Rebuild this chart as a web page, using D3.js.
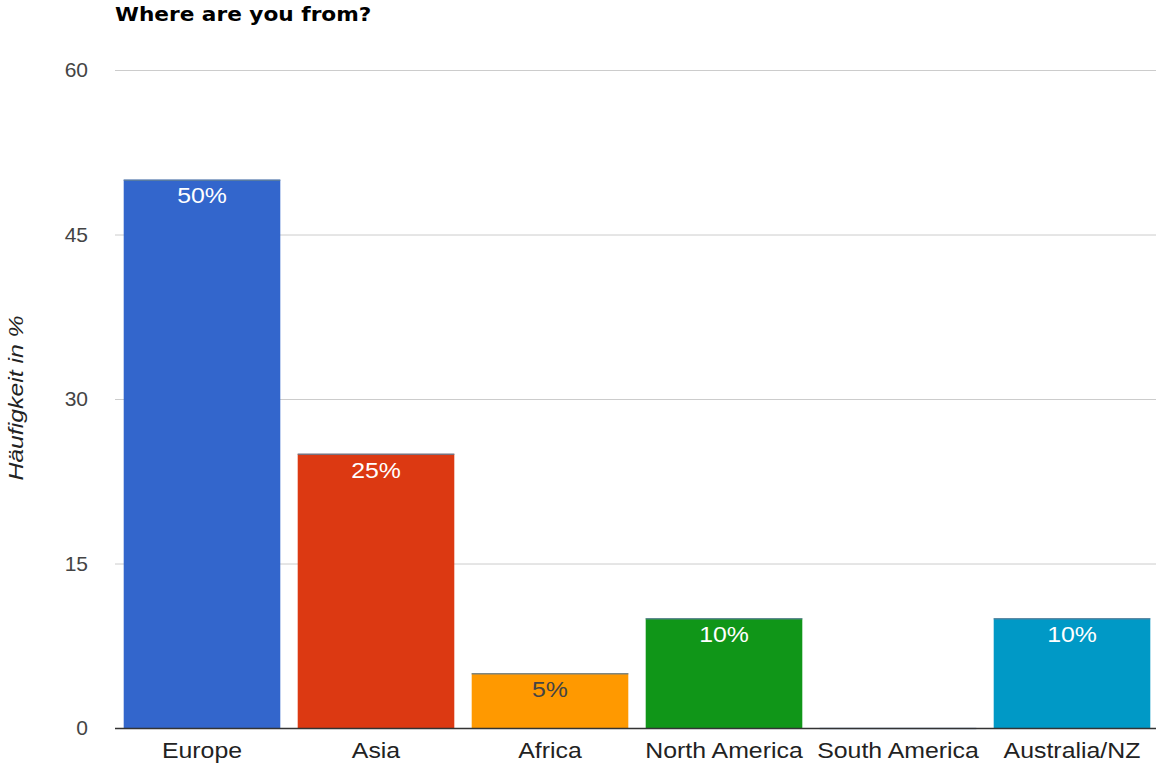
<!DOCTYPE html>
<html><head><meta charset="utf-8">
<script src="https://cdn.jsdelivr.net/npm/d3@7"></script>
<style>body{margin:0;background:#fff;} text{font-family:"Liberation Sans",Arial,sans-serif;}</style>
</head><body>
<svg id="chart" width="1156" height="772"></svg>
<script>
const categories = ["Europe","Asia","Africa","North America","South America","Australia/NZ"];
const values = [50,25,5,10,0,10];
const labels = ["50%","25%","5%","10%","","10%"];
const colors = ["#3366cc","#dc3912","#ff9900","#109618","#990099","#0099c6"];
const labelColors = ["#ffffff","#ffffff","#444444","#ffffff","#ffffff","#ffffff"];
const yTicks = [0,15,30,45,60];
const title = "Where are you from?";
const yTitle = "Häufigkeit in %";

const svg = d3.select("#chart");
const x = d3.scaleBand().domain(categories).range([115,1159]).paddingInner(0.1).paddingOuter(0.05);
const y = d3.scaleLinear().domain([0,60]).range([728,70]);
const SX = 1.13;

// gridlines
svg.append("g").selectAll("line").data(yTicks.filter(d=>d>0)).join("line")
  .attr("x1",115).attr("x2",1156).attr("y1",d=>y(d)+0.5).attr("y2",d=>y(d)+0.5)
  .attr("stroke","#cccccc").attr("stroke-width",1);

// y tick labels
svg.append("g").selectAll("text").data(yTicks).join("text")
  .attr("x",88).attr("y",d=>y(d)).attr("dy","0.35em").attr("text-anchor","end")
  .attr("font-size",21).attr("fill","#444").text(d=>d);

// bars
svg.append("g").selectAll("rect").data(categories).join("rect")
  .attr("x",d=>x(d)).attr("width",x.bandwidth())
  .attr("y",(d,i)=>y(values[i])).attr("height",(d,i)=>y(0)-y(values[i]))
  .attr("fill",(d,i)=>colors[i]);

// thin top lines (zero-height stacked series)
svg.append("g").selectAll("line").data(categories).join("line")
  .attr("x1",d=>x(d)).attr("x2",d=>x(d)+x.bandwidth())
  .attr("y1",(d,i)=>y(values[i])+0.5).attr("y2",(d,i)=>y(values[i])+0.5)
  .attr("stroke",(d,i)=>values[i]===0?"#7a9cc8":"#5f7f99").attr("stroke-width",1.5).attr("opacity",0.8);

// baseline
svg.append("line").attr("x1",115).attr("x2",1156).attr("y1",y(0)+0.5).attr("y2",y(0)+0.5)
  .attr("stroke","#333").attr("stroke-width",1.5);

// value labels
svg.append("g").selectAll("text").data(categories).join("text")
  .attr("transform",(d,i)=>`translate(${x(d)+x.bandwidth()/2},${y(values[i])+16}) scale(${SX},1)`)
  .attr("dy","0.35em")
  .attr("text-anchor","middle").attr("font-size",22).attr("fill",(d,i)=>labelColors[i])
  .text((d,i)=>labels[i]);

// category labels
svg.append("g").selectAll("text").data(categories).join("text")
  .attr("transform",d=>`translate(${x(d)+x.bandwidth()/2},750) scale(${SX},1)`)
  .attr("dy","0.35em")
  .attr("text-anchor","middle").attr("font-size",22).attr("fill","#222").text(d=>d);

// title
svg.append("text").attr("transform","translate(115,21) scale(1.14,1)").attr("font-size",19).attr("font-weight","bold")
  .style("font-family","'DejaVu Sans',Verdana,sans-serif")
  .attr("fill","#000").text(title);

// y axis title
svg.append("text").attr("transform","translate(23,398) rotate(-90) scale(1.18,1)").attr("text-anchor","middle")
  .attr("font-size",21).attr("font-style","italic").attr("fill","#222").text(yTitle);
</script>
</body></html>
